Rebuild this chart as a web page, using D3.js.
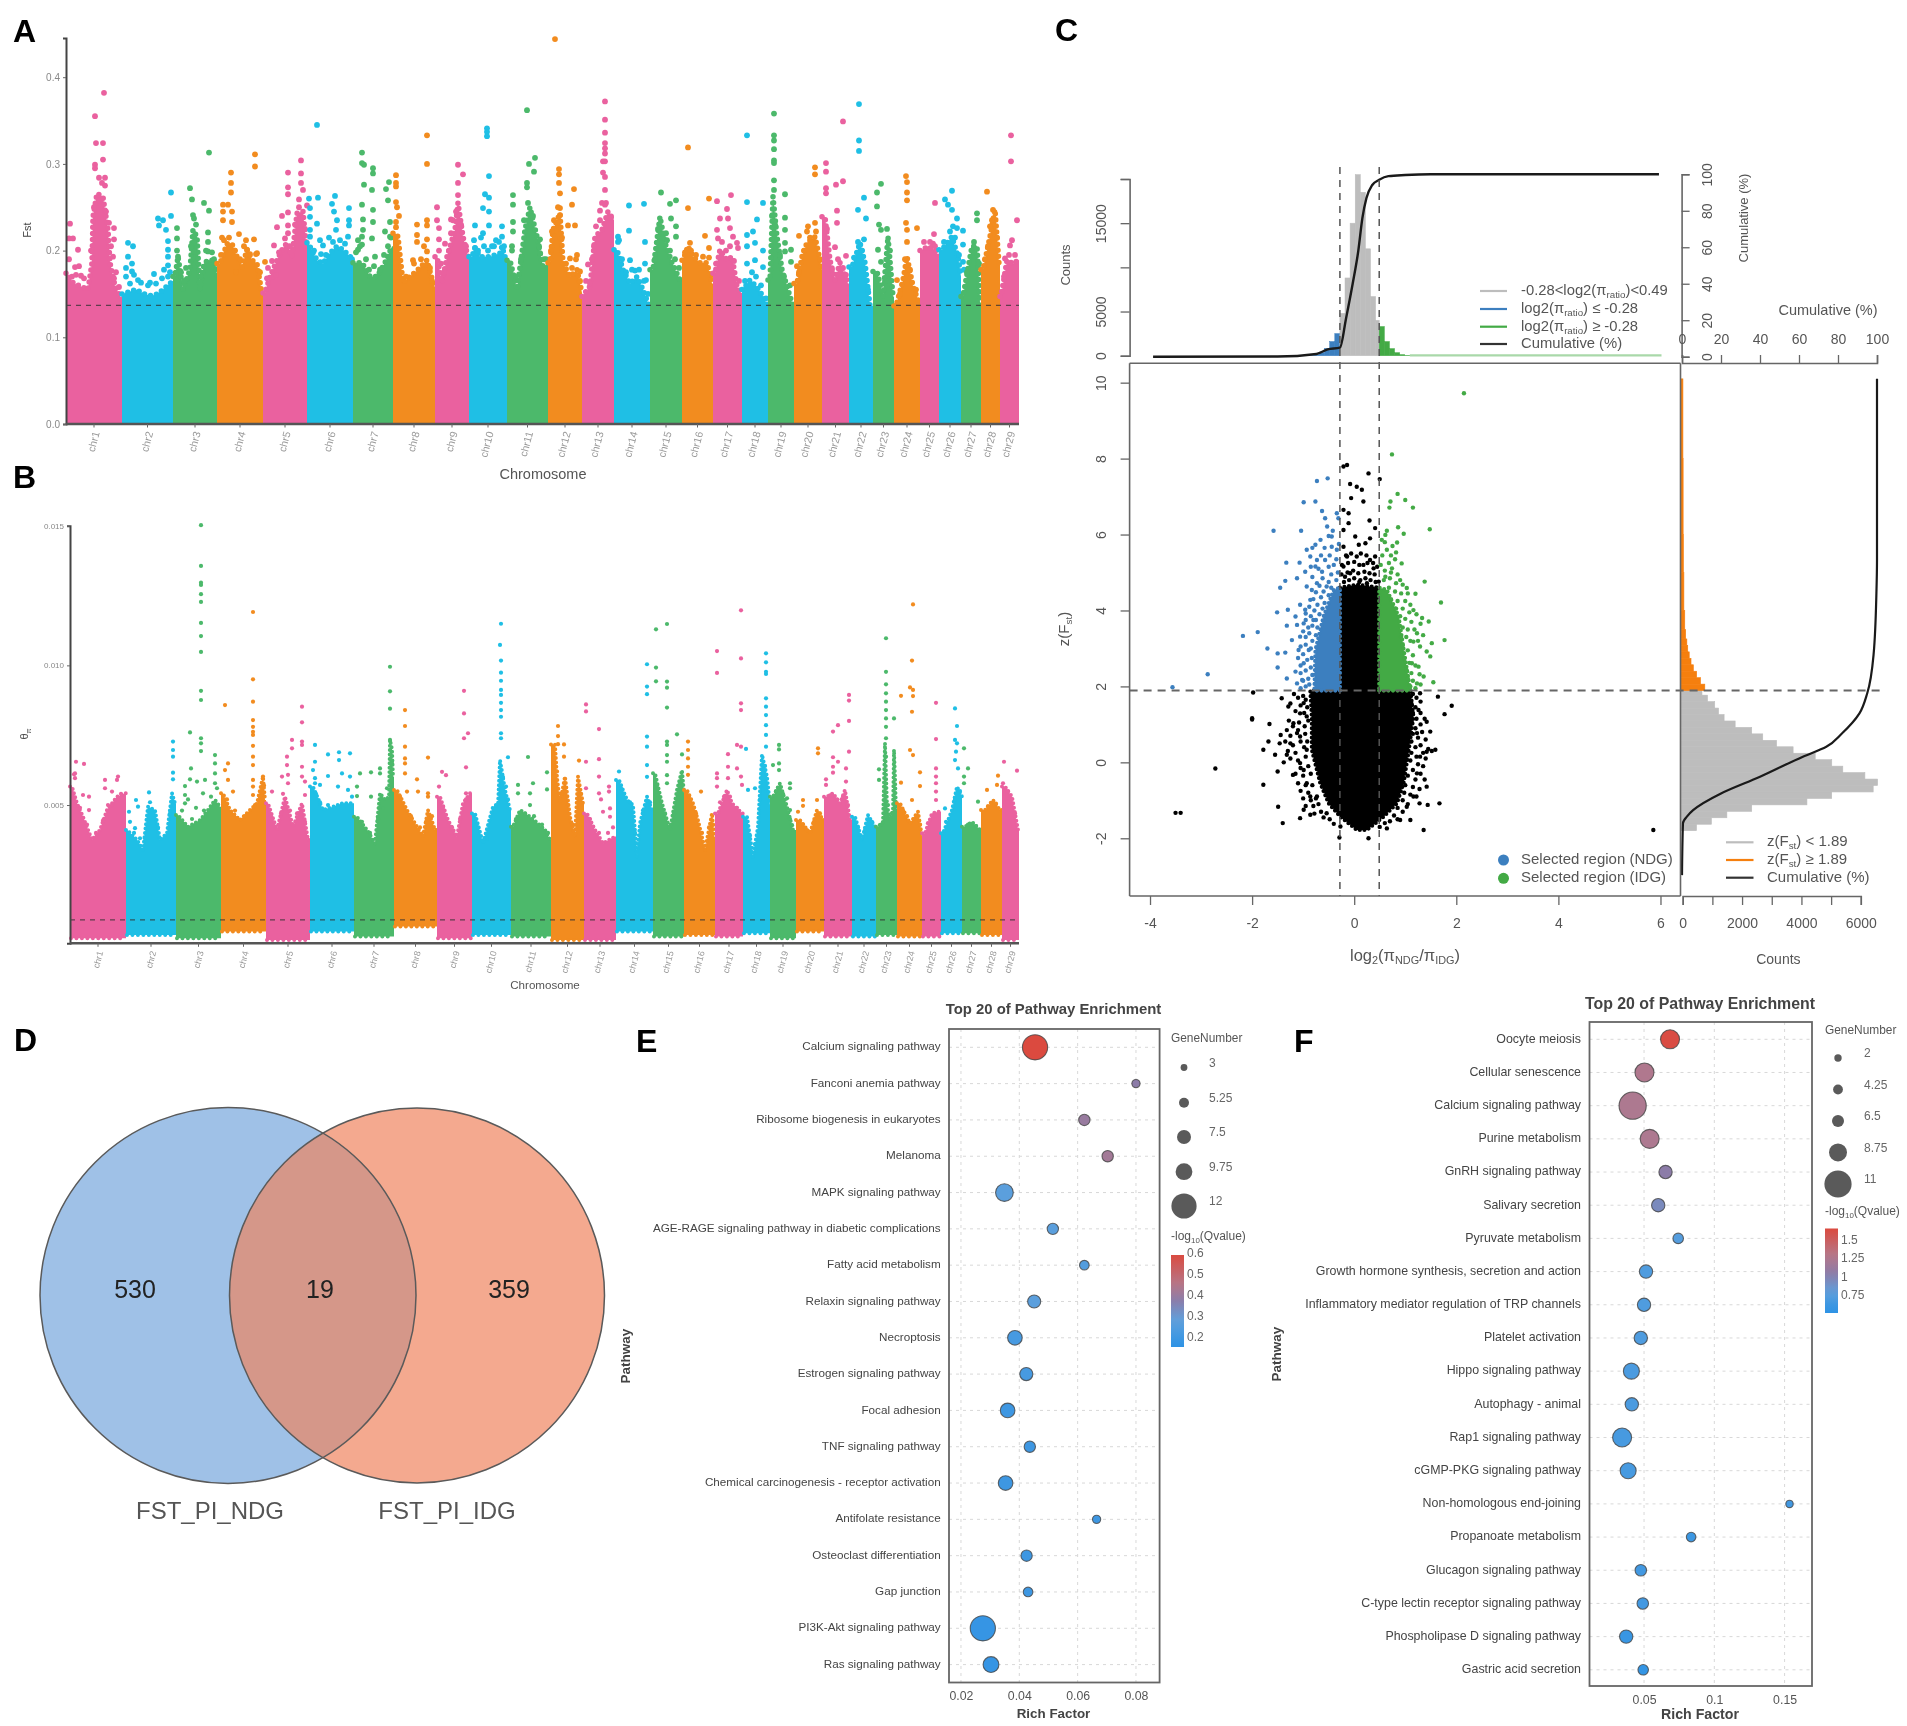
<!DOCTYPE html>
<html><head><meta charset="utf-8">
<script src="https://cdn.jsdelivr.net/npm/d3@7"></script>
<style>
html,body{margin:0;padding:0;background:#fff}
svg{display:block;filter:blur(.5px)}
text{font-family:"Liberation Sans",Arial,sans-serif}
</style></head><body>
<svg id="fig" width="1907" height="1726" viewBox="0 0 1907 1726"></svg>
<script>
// ---------- Manhattan data: positions are along the concatenated genome; values are x1000 (Fst) or x100000 (pi)
const chromosomes = d3.range(1,30).map(i=>"chr"+i);
const fstBounds=[0,56,107,151,197,241,287,327,369,403,441,482,516,548,584,616,647,676,702,728,756,783,807,828,854,873,895,915,934,953];
const fstTops=[
[[1,174],[7,163],[14,159],[22,155],[26,186],[27,239],[31,266],[37,262],[42,224],[44,186],[49,159],[56,143]],
[[56,150],[62,152],[70,155],[78,150],[85,148],[92,150],[100,158],[107,165]],
[[109,170],[112,193],[117,155],[124,178],[127,224],[131,216],[134,155],[138,185],[142,189],[149,189],[151,170]],
[[154,185],[161,208],[166,208],[171,193],[176,181],[181,201],[186,189],[191,185],[196,150]],
[[199,151],[204,170],[211,189],[216,201],[221,209],[226,193],[231,243],[237,245],[240,209]],
[[242,209],[251,189],[257,185],[264,197],[271,205],[277,201],[284,193]],
[[289,186],[296,186],[304,170],[311,170],[319,186],[326,205]],
[[329,220],[332,216],[337,163],[344,170],[352,178],[361,189],[369,155]],
[[371,193],[376,163],[381,193],[389,224],[392,255],[397,216],[402,193]],
[[406,193],[409,203],[414,193],[424,193],[434,197],[436,205],[441,185]],
[[444,189],[451,155],[459,224],[464,250],[471,216],[477,181],[482,181]],
[[484,186],[487,224],[494,243],[497,186],[504,170],[511,178],[516,151]],
[[516,147],[524,159],[529,216],[536,224],[542,245],[548,235]],
[[551,201],[557,178],[564,162],[571,170],[577,155],[583,136]],
[[587,178],[594,239],[599,209],[606,186],[614,166]],
[[617,189],[622,205],[627,193],[634,186],[641,186],[646,162]],
[[649,174],[654,201],[661,189],[666,193],[671,159],[675,151]],
[[677,155],[684,166],[691,158],[697,147],[702,136]],
[[704,166],[707,262],[711,216],[716,178],[722,155],[727,136]],
[[731,162],[736,193],[741,209],[749,216],[756,178]],
[[759,239],[764,189],[769,166],[774,186],[782,162]],
[[786,181],[794,209],[799,186],[804,136]],
[[811,176],[817,147],[822,216],[827,147]],
[[830,136],[837,166],[841,193],[847,159],[852,143]],
[[855,200],[862,205],[870,200],[873,190]],
[[876,201],[886,216],[892,193],[895,170]],
[[897,147],[906,205],[911,205],[914,140]],
[[917,178],[924,216],[929,247],[933,185]],
[[935,147],[941,189],[947,185],[952,189]]];
const fstSpots=[
[[38,382],[29,355],[30,324],[37,324],[37,305],[29,299],[29,295],[33,284],[39,284],[36,278],[39,275],[4,231],[3,214],[7,214],[12,201],[48,226],[48,213],[47,193],[48,168],[53,158],[9,181],[13,182],[6,170],[15,171]],
[[62,209],[67,205],[62,193],[66,185],[66,176],[72,166],[64,162],[84,163],[88,173],[98,178],[102,170],[92,237],[97,235],[93,229],[100,224],[105,267],[105,240],[102,211],[102,201],[102,193],[102,183]],
[[143,313],[124,272],[126,259],[138,255],[143,246],[127,241],[128,237],[111,226],[111,214],[142,221],[142,210],[142,199],[128,209],[128,199],[112,193],[148,190]],
[[189,311],[189,297],[165,290],[165,278],[165,267],[157,253],[162,253],[157,245],[166,245],[157,235],[166,233],[156,215],[173,219],[180,212],[188,213],[191,197],[199,187],[181,201]],
[[235,304],[235,289],[222,290],[222,273],[222,265],[235,278],[237,270],[233,259],[241,252],[222,244],[216,240],[211,227],[222,229],[222,220],[208,206],[207,170],[201,168]],
[[251,345],[243,260],[252,261],[269,263],[266,254],[268,245],[283,249],[283,235],[283,229],[271,235],[270,224],[244,249],[244,239],[244,224],[251,231],[254,212],[282,216],[257,206]],
[[296,313],[296,301],[298,299],[307,295],[307,289],[298,276],[306,270],[323,279],[320,271],[322,258],[296,253],[307,247],[297,236],[307,233],[324,233],[319,222],[297,224],[296,216],[306,214],[324,216],[296,207],[292,201],[309,193]],
[[361,333],[361,300],[330,287],[330,278],[330,274],[330,256],[330,233],[330,227],[361,235],[361,229],[351,230],[351,218],[351,210],[361,213],[361,199],[347,189]],
[[392,299],[397,288],[392,278],[392,264],[371,250],[371,235],[385,236],[385,220],[373,226],[373,213],[379,208]],
[[421,341],[421,337],[421,332],[423,286],[419,265],[423,261],[417,249],[423,245],[423,229],[409,229],[417,220],[436,228],[436,216],[409,203],[426,205]],
[[461,362],[469,307],[463,300],[468,291],[461,278],[461,273],[447,264],[447,253],[447,233],[447,222],[446,205],[474,213],[474,197],[478,190]],
[[489,444],[493,294],[493,288],[493,278],[494,266],[508,271],[506,253],[494,249],[494,241],[502,229],[509,229],[486,222],[489,216],[511,195],[504,191],[514,176]],
[[539,372],[539,351],[539,336],[539,324],[539,318],[539,312],[537,303],[539,303],[537,290],[539,285],[539,270],[536,255],[539,253],[534,246],[522,184],[524,162]],
[[563,252],[578,254],[563,223],[552,216],[553,212],[579,210],[564,189],[579,185],[569,177],[580,166]],
[[595,267],[610,258],[604,254],[605,237],[610,228],[610,216],[601,212]],
[[622,319],[622,249],[643,260],[639,217],[643,203],[624,209]],
[[665,264],[651,257],[661,248],[654,237],[662,237],[664,226],[651,224],[652,214],[667,216],[671,209],[672,203]],
[[681,333],[681,256],[697,255],[691,236],[681,218],[687,222],[689,209],[681,205],[697,200],[689,189],[681,185],[697,181]],
[[708,358],[708,333],[708,327],[708,317],[708,304],[708,301],[708,281],[708,270],[719,265],[719,238],[719,224],[719,209],[719,199],[725,201],[725,187]],
[[749,296],[749,288],[749,232],[742,228],[741,222],[733,217],[731,182]],
[[777,349],[760,301],[760,291],[760,272],[760,266],[770,276],[777,280],[771,246],[771,232],[769,204],[780,194]],
[[793,369],[793,327],[793,315],[798,261],[792,247],[800,237],[798,213]],
[[815,277],[811,267],[811,251],[813,230],[815,224],[812,201],[815,187]],
[[840,286],[841,279],[841,267],[841,258],[840,232],[841,224],[841,210],[851,226],[831,166]],
[[869,255],[868,219],[867,208]],
[[886,269],[879,259],[882,253],[886,247],[891,237],[887,228],[891,226],[897,223],[897,207],[897,187],[898,178]],
[[911,243],[911,235]],
[[921,268],[927,247],[924,228]],
[[945,333],[945,303],[951,235],[946,212],[944,206],[939,191]]];
const fstMore=[
[[28,250],[33,258],[40,245],[45,205],[50,175],[3,190],[10,172],[18,168],[25,200],[43,232]],
[[60,170],[68,172],[75,163],[82,160],[90,162],[96,168],[104,175],[60,180]],
[[111,200],[115,175],[120,180],[125,205],[130,230],[135,170],[140,200],[146,198],[150,185],[118,165]],
[[155,195],[158,212],[163,215],[169,200],[174,190],[178,205],[184,196],[190,196],[194,175],[170,175]],
[[202,180],[206,188],[213,198],[219,214],[224,205],[229,230],[233,250],[239,225],[210,172]],
[[244,216],[248,200],[255,196],[260,195],[267,210],[274,212],[279,208],[286,190],[263,215]],
[[290,198],[294,205],[300,190],[303,178],[308,182],[314,178],[318,195],[322,205],[325,215],[292,212]],
[[333,240],[331,250],[340,170],[348,185],[355,190],[358,205],[364,180],[366,165]],
[[373,200],[378,175],[383,200],[387,235],[390,245],[395,230],[400,205],[375,185]],
[[408,212],[412,200],[418,205],[422,200],[428,205],[433,210],[438,205],[415,215],[430,212]],
[[446,200],[450,170],[455,190],[458,235],[462,255],[467,240],[473,205],[480,190],[445,178]],
[[485,200],[488,235],[492,250],[496,215],[500,185],[506,180],[510,190],[514,165]],
[[520,165],[526,190],[530,228],[534,235],[540,255],[545,238],[528,205]],
[[552,210],[556,190],[560,175],[566,178],[573,178],[578,165],[582,150]],
[[589,190],[592,225],[597,215],[600,220],[604,200],[609,190],[613,180]],
[[619,198],[625,200],[630,195],[637,193],[643,192],[646,172]],
[[650,185],[656,210],[660,200],[664,205],[668,188],[673,165]],
[[679,165],[686,175],[690,170],[695,160],[700,145]],
[[706,240],[709,230],[714,195],[718,170],[724,160]],
[[733,175],[738,200],[744,215],[750,222],[754,190]],
[[761,225],[766,178],[772,190],[777,180],[780,172]],
[[788,192],[792,210],[796,200],[802,155]],
[[813,160],[819,165],[824,200],[821,225]],
[[834,150],[839,190],[844,178],[850,155]],
[[858,210],[864,210],[869,205]],
[[878,210],[884,222],[889,215],[893,195]],
[[901,175],[908,210],[913,185]],
[[919,190],[922,205],[926,235],[931,215]],
[[938,170],[943,195],[949,195]]];
const fstTickValues=[0,0.1,0.2,0.3,0.4];
const fstThreshold=0.1368;

const piBounds=[0,56,106,151,196,240,284,324,367,402,441,481,514,546,583,614,645,673,700,726,754,782,806,827,852,871,892,911,932,949];
const piBottoms=[23,35,23,47,17,47,29,65,23,35,29,17,17,47,29,35,29,41,23,47,29,29,35,29,29,41,41,35,17];
const piTops=[
[[2,566],[7,506],[13,458],[22,375],[30,411],[37,482],[47,530],[55,542]],
[[57,411],[67,375],[73,339],[78,494],[85,482],[90,375],[97,399],[102,542],[105,506]],
[[108,464],[118,422],[130,446],[138,482],[145,518],[150,494]],
[[153,542],[160,482],[170,446],[180,482],[187,506],[193,602],[195,518]],
[[198,506],[207,411],[215,530],[223,422],[232,506],[238,375]],
[[243,566],[253,482],[263,494],[272,506],[280,506]],
[[287,458],[297,411],[305,363],[310,542],[315,518],[319,530],[320,733],[322,700],[323,602]],
[[327,554],[337,482],[347,422],[353,387],[358,482],[365,411]],
[[370,530],[378,446],[387,387],[393,506],[400,542]],
[[405,470],[413,363],[423,494],[428,500],[430,661],[432,620],[435,554],[440,482]],
[[443,422],[450,482],[460,458],[468,434],[475,411],[480,375]],
[[485,717],[487,600],[490,506],[495,602],[500,458],[505,387],[508,602],[513,506]],
[[517,470],[525,411],[533,363],[545,387]],
[[549,590],[557,518],[563,500],[567,315],[570,435],[577,530],[582,482]],
[[585,614],[592,506],[600,411],[607,554],[612,625],[614,542]],
[[617,554],[623,506],[628,446],[635,339],[642,470],[644,387]],
[[648,470],[657,554],[662,506],[672,470]],
[[677,458],[683,315],[688,422],[692,681],[697,602],[700,500]],
[[703,530],[710,578],[717,494],[723,411]],
[[730,446],[740,399],[747,482],[753,446]],
[[757,530],[763,542],[770,506],[775,554],[780,446]],
[[785,458],[792,375],[798,464],[805,422]],
[[808,422],[813,440],[815,721],[817,500],[820,447],[823,480],[824,697],[825,600],[826,482]],
[[830,506],[840,434],[848,476],[852,387]],
[[855,399],[862,470],[868,476]],
[[873,399],[882,482],[887,566],[892,530]],
[[895,422],[902,440],[910,411]],
[[915,482],[923,518],[930,482]],
[[935,566],[942,530],[948,411]]];
const piSpots=[
[[6,655],[14,647],[5,613],[5,596],[13,536],[19,530],[35,590],[35,560],[48,602],[47,590],[42,548],[38,500],[19,482]],
[[103,727],[103,697],[103,673],[103,616],[103,592],[79,545],[66,518],[59,476],[68,494],[65,417],[70,381]],
[[131,1502],[131,1356],[131,1296],[131,1288],[131,1255],[131,1227],[131,1152],[131,1105],[131,1048],[131,909],[131,876],[120,760],[131,739],[131,721],[131,693],[121,631],[145,679],[145,649],[145,613],[145,578],[135,590],[120,592],[127,584],[115,568],[115,536],[115,506],[133,542]],
[[183,1191],[183,950],[155,858],[183,870],[183,804],[183,780],[183,762],[183,751],[183,712],[183,673],[183,643],[183,590],[183,566],[183,536],[158,649],[155,625],[158,590],[163,548],[193,602]],
[[232,852],[232,796],[222,733],[232,727],[232,715],[222,703],[217,673],[217,643],[232,637],[212,602],[218,608],[232,602],[235,584],[218,578],[202,548],[235,536]],
[[245,715],[245,655],[243,625],[245,596],[245,578],[258,681],[269,689],[280,685],[269,661],[272,613],[258,604],[280,602],[268,566],[278,554],[250,572]],
[[320,995],[320,907],[320,845],[320,733],[310,631],[310,613],[301,617],[290,613],[287,566],[287,532],[301,530]],
[[335,840],[335,783],[335,709],[335,667],[335,649],[335,613],[358,670],[347,592],[337,548],[348,548],[358,542],[358,530]],
[[394,909],[394,828],[398,757],[394,739],[396,635],[372,619],[376,607],[369,566],[396,542]],
[[431,1149],[430,1073],[431,1017],[431,974],[431,945],[431,912],[431,894],[431,866],[431,840],[431,816],[431,757],[431,739],[438,671],[436,566]],
[[458,672],[448,572],[463,578],[448,542],[460,542],[460,500],[477,617],[477,556]],
[[488,783],[488,747],[488,718],[494,717],[494,673],[509,659]],
[[516,860],[516,835],[529,772],[529,664],[516,655],[529,602],[516,560],[529,542],[531,520],[539,566],[539,548],[533,476],[540,488],[540,458]],
[[549,620],[577,1004],[577,924],[577,897],[577,745],[577,709],[577,643],[577,601]],
[[586,1129],[597,1148],[586,992],[586,943],[597,942],[597,920],[597,849],[607,753],[597,727],[597,715],[597,679],[597,655],[597,607],[597,578],[612,681]],
[[618,727],[618,697],[618,667],[618,637],[618,608],[631,548]],
[[647,1051],[647,973],[671,1197],[671,1025],[671,864],[671,840],[667,715],[671,709],[658,682],[658,637],[667,631],[647,613],[647,596],[658,596],[671,602],[647,566],[672,572]],
[[696,1043],[696,1011],[696,977],[696,969],[696,882],[696,852],[696,822],[696,786],[696,751],[696,709],[676,701],[678,554],[685,560]],
[[709,715],[709,699],[703,643],[709,649],[709,625],[720,578],[720,560],[717,524],[720,482],[722,428]],
[[748,703],[748,685],[728,476],[733,518],[733,497],[747,518]],
[[779,894],[779,874],[768,786],[763,763],[779,801],[779,691],[763,671],[768,655],[763,637],[763,616],[776,631],[756,592],[756,572],[776,584]],
[],
[[816,1097],[816,977],[816,932],[816,900],[816,870],[816,840],[816,810],[816,780],[824,810],[816,739],[816,673],[809,628],[809,590]],
[[843,1218],[842,1017],[840,921],[843,912],[843,890],[831,891],[842,834],[840,697],[843,679],[850,617],[831,580],[850,568],[842,518]],
[[866,866],[866,736],[866,631],[866,602],[866,578],[866,548],[866,518]],
[[885,846],[887,783],[885,733],[887,721],[886,691],[885,661],[888,631],[875,488]],
[[894,703],[894,602],[898,631],[894,578],[908,512]],
[[928,605],[917,554],[927,572]],
[[934,655],[947,623],[933,578]]];
const piMore=[
[[4,610],[10,490],[17,430],[26,400],[33,445],[42,500],[51,540]],
[[60,440],[64,400],[75,380],[80,510],[88,420],[100,470]],
[[112,480],[122,450],[126,490],[134,480],[141,530],[147,560],[118,520]],
[[157,520],[165,480],[175,460],[185,500],[190,530],[194,570]],
[[201,460],[211,470],[220,480],[227,470],[235,440],[213,540]],
[[246,540],[250,510],[258,500],[268,490],[276,500],[282,530]],
[[292,440],[300,400],[308,450],[313,490],[317,560],[322,650]],
[[330,530],[341,460],[350,420],[356,440],[362,460]],
[[373,490],[382,420],[390,450],[396,520]],
[[408,420],[417,380],[426,500],[433,600],[438,520]],
[[446,450],[455,470],[464,460],[472,430],[478,400]],
[[487,620],[492,540],[498,500],[503,430],[511,540]],
[[520,450],[529,400],[538,400],[543,420]],
[[551,560],[560,510],[565,400],[573,480],[580,510]],
[[587,570],[595,470],[604,470],[610,580]],
[[619,530],[626,470],[632,400],[639,420],[643,430]],
[[650,510],[654,530],[660,530],[667,490]],
[[680,390],[685,360],[690,520],[695,640]],
[[706,550],[713,540],[720,450]],
[[733,430],[737,410],[744,440],[750,470]],
[[760,535],[767,520],[773,530],[778,500]],
[[788,420],[795,410],[802,440]],
[[811,430],[818,500],[822,470]],
[[833,480],[837,460],[844,450],[850,430]],
[[858,435],[865,460]],
[[876,440],[885,520],[890,550]],
[[898,430],[906,425]],
[[918,495],[926,505]],
[[938,550],[945,470]]];
const piTickValues=[0.005,0.010,0.015];
const piThreshold=0.00089;

// ---------- Panel C data
const leftTail=[[-.88,50],[-.78,110],[-.68,340],[-.58,830],[-.48,1600],[-.38,2500]];
const midBins=[[-.28,4800],[-.18,8800],[-.08,15000],[.02,20500],[.12,18500],[.22,12100],[.32,6700],[.42,4000]];
const rightTail=[[.49,3300],[.59,1600],[.69,800],[.79,340],[.89,120],[.99,50]];
const logCum=[[-3.94,0],[-1.5,.1],[-.74,1.5],[-.52,4],[-.28,5],[-.16,21],[-.03,40],[.08,58],[.16,76],[.24,87],[.35,94],[.49,97],[.67,99],[1,99.6],[1.5,100],[5.97,100]];
const greenTailLine=[[1.09,40],[6.02,40]];
const blackBody=[[-.28,4.6],[.05,4.68],[.49,4.6],[.49,1.89],[1.1,1.89],[1.16,1.2],[1.07,.33],[.967,-.55],[.837,-1.08],[.576,-1.43],[.249,-1.78],[.053,-1.78],[-.273,-1.43],[-.5,-1.08],[-.665,-.55],[-.83,.33],[-.83,1.2],[-.86,1.89],[-.28,1.89]];
const blueBody=[[-.28,1.89],[-.78,1.89],[-.76,2.96],[-.6,3.84],[-.4,4.54],[-.28,4.6]];
const greenBody=[[.49,1.89],[1.1,1.89],[.97,2.96],[.87,3.84],[.64,4.54],[.49,4.6]];
const blueSpots=[[-.73,7.41],[-.52,7.48],[-.99,6.85],[-.76,6.87],[-1.58,6.1],[-1.04,6.1],[-.63,6.62],[-.57,6.43],[-.53,6.21],[-.34,6.56],[-.31,6.43],[-.5,5.96],[-.66,5.86],[-.76,5.73],[-.44,5.68],[-.93,5.6],[-.86,5.42],[-1.33,5.26],[-1.07,5.26],[-.76,5.16],[-.63,5.02],[-.96,5.02],[-1.12,4.85],[-1.45,4.6],[-1.35,4.78],[-.93,4.63],[-.73,4.72],[-.54,4.63],[-1.06,4.15],[-.86,4.28],[-1.51,3.95],[-1.3,4.02],[-1.15,3.84],[-.96,4.02],[-1.32,3.6],[-1.12,3.62],[-2.18,3.33],[-1.89,3.43],[-1.22,3.22],[-1.06,3.31],[-1.7,3],[-1.5,2.87],[-1.35,2.89],[-1.09,2.96],[-1.5,2.5],[-1.15,2.39],[-1.32,2.21],[-.99,2.61],[-2.87,2.32],[-1.02,2.17],[-1.12,2.08],[-.89,2.96],[-.8,3.75],[-.99,3.66],[-.83,4.54],[-.4,5.2],[-.57,5.33],[-.73,5.33],[-.34,5.6],[-.44,5.95],[-3.56,1.98],
[-1.05,1.95],[-.95,2],[-.88,2.05],[-1,2.15],[-.9,2.2],[-.82,2.3],[-1.05,2.35],[-.95,2.42],[-.85,2.5],[-1.05,2.55],[-.92,2.7],[-.83,2.75],[-1.1,2.75],[-1,2.85],[-.85,3],[-1.05,3.05],[-.95,3.1],[-.82,3.2],[-.95,3.3],[-.88,3.4],[-.75,3.35],[-1,3.45],[-.9,3.55],[-.72,3.55],[-.82,3.6],[-.95,3.75],[-.75,3.75],[-.85,3.85],[-.68,3.9],[-.95,3.92],[-.78,4],[-.62,4.05],[-.88,4.1],[-.72,4.15],[-.58,4.2],[-.8,4.3],[-.65,4.35],[-.5,4.4],[-.75,4.48],[-.6,4.5],[-.45,4.6],[-.68,4.65],[-.5,4.75],[-.35,4.8],[-.62,4.85],[-.45,4.95],[-.82,4.88],[-.32,5],[-.7,5.1],[-.5,5.15],[-.35,5.35],[-.65,5.45],[-.48,5.45],[-.82,5.65],[-.58,5.65],[-.3,5.75],[-.85,5.15],[-.42,6.1]];
const greenSpots=[[.74,8.11],[.85,7.07],[1,6.91],[.71,6.87],[.69,6.71],[1.15,6.71],[1.48,6.14],[.86,6.19],[.64,6.1],[.61,5.99],[.97,6.02],[.54,5.86],[.84,5.79],[.64,5.6],[.82,5.53],[.93,5.24],[.74,5.11],[.61,4.89],[.9,4.8],[1.38,4.76],[1.03,4.59],[1.2,4.44],[1.7,4.21],[1.16,4.01],[1.33,3.8],[1.46,3.71],[1.23,3.4],[1.77,3.22],[1.52,3.14],[1.16,3.18],[1.42,2.92],[1.29,3.05],[1.13,2.61],[1.26,2.52],[1.55,2.11],[1.36,2.26],[1.23,2.08],[1.49,2.79],[2.15,9.72],
[1.2,1.95],[1.1,2],[1.3,2.05],[1.15,2.15],[1.05,2.2],[1.28,2.32],[1.12,2.35],[1.02,2.45],[1.2,2.55],[1.08,2.62],[.98,2.72],[1.15,2.82],[1.05,2.95],[.95,3.08],[1.25,3.2],[1.1,3.2],[1.02,3.3],[.92,3.3],[1.35,3.35],[1.18,3.5],[1.05,3.5],[.95,3.55],[1.3,3.65],[1.12,3.7],[1,3.78],[.9,3.85],[1.22,3.9],[1.08,3.95],[.95,4.05],[.82,4.05],[1.1,4.15],[1,4.25],[.85,4.25],[.72,4.3],[1.05,4.45],[.92,4.45],[.8,4.5],[.68,4.6],[.95,4.68],[.82,4.72],[.7,4.85],[.58,4.8],[.85,4.95],[.72,5],[.6,5.05],[.52,5.2],[.68,5.25],[.8,5.35],[.55,5.45],[.72,5.45],[.75,5.7],[.6,5.8]];
const blackSpots=[[-.14,7.83],[-.21,7.79],[.28,7.61],[.5,7.46],[-.08,7.33],[.05,7.26],[.15,7.18],[-.06,6.96],[.18,6.87],[-.21,6.65],[-.11,6.56],[.3,6.37],[-.11,6.3],[.41,6.17],[-.21,6.12],[.02,5.95],[.09,5.73],[.31,5.9],[.22,5.77],[-.21,5.68],[-.14,5.42],[.05,5.42],[.31,5.33],[.41,5.42],[-.21,5.16],[.18,5.2],[-.08,4.98],[.38,5.11],[.12,4.8],[-.18,4.89],[.48,4.76],[.25,4.72],
[-.2,4.75],[-.1,4.8],[0,4.85],[.1,4.75],[.22,4.85],[.32,4.8],[.42,4.75],[-.25,4.95],[-.13,5],[-.02,5.05],[.08,4.98],[.2,5.02],[.3,4.98],[.4,4.95],[-.24,5.2],[-.12,5.25],[0,5.28],[.1,5.2],[.26,5.25],[.37,5.25],[.45,5.15],[-.16,5.45],[-.06,5.5],[.13,5.5],[.24,5.45],
[-1.98,1.84],[-2,1.16],[-1.66,1.01],[-1.44,.72],[-1.68,.55],[-1.78,.33],[-1.46,.5],[-1.25,.5],[-1.55,.2],[-1.32,.2],[-1.06,-.02],[-2.72,-.16],[-1.5,-.24],[-1.78,-.59],[-1.2,-.33],[-.93,-.55],[-1.49,-1.17],[-1.4,-1.6],[-1.06,-1.47],[-.86,-1.38],[-.73,-.9],[-.99,-1.25],[-1.29,1.47],[-1.19,1.03],[-1.12,.77],[-.99,1.56],[-.93,1.21],[-1.06,1.29],[-1.42,1.69],[-.29,-1.98],[.28,-2],[1.36,-1.78],[1.1,-1.52],[1.67,-1.08],[1.44,-1.12],[1.28,-1.08],[1.42,-.64],[1.23,-.29],[1.59,.33],[1.42,.28],[1.49,.81],[1.42,1.07],[1.26,1.38],[1.64,1.73],[1.91,1.49],[1.77,1.27],[1.29,1.82],[1.23,.77],[1.29,.15],[1.16,-.9],[1.03,-1.17],[.9,-1.52],[.64,-1.74],[-.27,-1.69],[-.54,-1.34],[-.86,-.9],[-.99,-.2],[-.93,.33],[-1.06,.68],[-3.5,-1.33],[-3.4,-1.33],[5.86,-1.78],[-2,1.13],
[-1.18,1.8],[-1.1,1.7],[-1,1.75],[-.95,1.65],[-1.25,1.55],[-1.05,1.5],[-.92,1.45],[-1.15,1.35],[-.98,1.3],[-.9,1.1],[-1.28,1.1],[-1.2,.95],[-1.08,1.05],[-.97,.95],[-1.32,.85],[-1.25,.7],[-1.1,.85],[-.96,.75],[-1.35,.55],[-1.2,.45],[-1.05,.55],[-.92,.55],[-1.3,.3],[-1.15,.25],[-.98,.4],[-1.25,.1],[-1.1,.05],[-.95,.15],[-1.38,0],[-1.05,-.15],[-.9,-.1],[-1.15,-.3],[-1,-.35],[-.85,-.3],[-1.1,-.55],[-.95,-.6],[-.82,-.6],[-1.05,-.75],[-.9,-.8],[-1,-.95],[-.85,-1],[-.75,-.95],[-.95,-1.15],[-.8,-1.15],[-.7,-1.1],[-.78,-1.35],[-.65,-1.3],[-.6,-1.45],[-.48,-1.5],[-.4,-1.62],
[1.15,1.8],[1.22,1.7],[1.3,1.6],[1.12,1.55],[1.2,1.45],[1.3,1.3],[1.15,1.3],[1.22,1.15],[1.38,1.15],[1.13,1.05],[1.3,1],[1.2,.9],[1.33,.8],[1.15,.75],[1.25,.65],[1.4,.6],[1.12,.55],[1.3,.45],[1.2,.4],[1.45,.35],[1.35,.25],[1.12,.25],[1.22,.15],[1.52,.3],[1.4,.1],[1.1,.05],[1.25,-.05],[1.35,-.1],[1.15,-.2],[1.3,-.3],[1.05,-.35],[1.2,-.45],[1.38,-.45],[1,-.6],[1.15,-.65],[1.28,-.7],[.98,-.8],[1.1,-.85],[1.22,-.9],[.95,-1],[1.05,-1.1],[.85,-1.2],[.95,-1.3],[.78,-1.4],[.85,-1.5],[.7,-1.55],[.6,-1.6],[.5,-1.7]];
const zGrey=[[-1.8,465],[-1.63,967],[-1.46,1488],[-1.29,2325],[-1.12,4185],[-.95,5020],[-.78,6417],[-.61,6566],[-.44,6138],[-.27,5394],[-.1,5022],[.07,4464],[.24,3720],[.41,3162],[.58,2697],[.75,2325],[.92,1767],[1.09,1395],[1.26,1209],[1.43,1079],[1.6,837],[1.77,650]];
const zOrange=[[1.89,745],[2.06,600],[2.23,470],[2.4,360],[2.57,280],[2.74,220],[2.91,170],[3.08,140],[3.25,100],[3.5,70],[4,40],[5,25],[6,15],[8,8]];
const zEdgeEnd=10.1;
const zCum=[[-2.97,0],[-1.6,.5],[-1.43,2.5],[-1.26,5.7],[-.82,20],[-.38,40],[.15,62],[.41,74],[.76,82],[1.29,91],[1.82,95],[2.87,98.3],[4.46,99.7],[5.33,100],[10.1,100]];

// ---------- Panel D data
const vennCounts=[530,19,359];
const vennNames=["FST_PI_NDG","FST_PI_IDG"];

// ---------- Panel E data
const ePathways=["Calcium signaling pathway","Fanconi anemia pathway","Ribosome biogenesis in eukaryotes","Melanoma","MAPK signaling pathway","AGE-RAGE signaling pathway in diabetic complications","Fatty acid metabolism","Relaxin signaling pathway","Necroptosis","Estrogen signaling pathway","Focal adhesion","TNF signaling pathway","Chemical carcinogenesis - receptor activation","Antifolate resistance","Osteoclast differentiation","Gap junction","PI3K-Akt signaling pathway","Ras signaling pathway"];
const eRich=[.0454,.08,.0623,.0703,.0349,.0515,.0623,.0451,.0385,.0424,.036,.0436,.0353,.0665,.0425,.043,.0275,.0303];
const eGenes=[12,4,6,6,10,6,5,7,8,7,8,6,8,4,6,5,12,9];
const eQ=[.6,.38,.4,.42,.27,.27,.25,.27,.22,.22,.2,.2,.2,.2,.2,.2,.18,.18];
const eSizeLegend=[3,5.25,7.5,9.75,12];
const eRadii=[3.4,5,7,8.4,12.6];
const eColorTicks=[.6,.5,.4,.3,.2];
// ---------- Panel F data
const fPathways=["Oocyte meiosis","Cellular senescence","Calcium signaling pathway","Purine metabolism","GnRH signaling pathway","Salivary secretion","Pyruvate metabolism","Growth hormone synthesis, secretion and action","Inflammatory mediator regulation of TRP channels","Platelet activation","Hippo signaling pathway","Autophagy - animal","Rap1 signaling pathway","cGMP-PKG signaling pathway","Non-homologous end-joining","Propanoate metabolism","Glucagon signaling pathway","C-type lectin receptor signaling pathway","Phospholipase D signaling pathway","Gastric acid secretion"];
const fRich=[.0685,.0503,.0419,.054,.0653,.0601,.0743,.0514,.05,.0477,.041,.0413,.0344,.0387,.1535,.0835,.0477,.0491,.0373,.0494];
const fGenes=[9,9,11,9,7,7,5,7,7,7,8,7,9,8,2,4,6,6,7,5];
const fQ=[1.65,1.27,1.25,1.25,1.05,.95,.75,.72,.72,.72,.7,.7,.68,.68,.65,.62,.65,.65,.6,.58];
const fSizeLegend=[2,4.25,6.5,8.75,11];
const fRadii=[3.7,4.9,6,9,13.6];
const fColorTicks=[1.5,1.25,1,.75];

// ---------- helpers
const svg=d3.select("#fig");
const chromColors=["#EA619F","#1FBFE5","#4CB96B","#F28C1F"];
const T=(g,x,y,s,o={})=>g.append("text").attr("x",x).attr("y",y).text(s)
  .attr("font-size",o.size||12).attr("fill",o.fill||"#555").attr("font-weight",o.weight||null)
  .attr("text-anchor",o.anchor||"start").attr("dominant-baseline",o.base||"middle")
  .attr("transform",o.rot!=null?`rotate(${o.rot} ${x} ${y})`:null).attr("font-style",o.italic?"italic":null);
function rich(g,x,y,parts,o={}){
  const t=g.append("text").attr("x",x).attr("y",y).attr("font-size",o.size||13.5).attr("fill",o.fill||"#555")
    .attr("text-anchor",o.anchor||"start").attr("dominant-baseline","middle")
    .attr("transform",o.rot!=null?`rotate(${o.rot} ${x} ${y})`:null);
  parts.forEach((p,i)=>{
    const s=t.append("tspan").text(p[0]);
    if(p[1]){s.attr("font-size",(o.size||13.5)*.66).attr("dy",4);}
    else if(i>0&&parts[i-1][1]){s.attr("dy",-4);}
  });
  return t;
}
[["A",13,42],["B",13,488],["C",1055,41],["D",14,1051],["E",636,1052],["F",1294,1052]].forEach(d=>
  svg.append("text").attr("x",d[1]).attr("y",d[2]).text(d[0]).attr("font-size",32).attr("font-weight","bold").attr("fill","#000"));

// ---------- Manhattan
function manhattan(cfg){
  const g=svg.append("g");
  const x=d3.scaleLinear().domain([0,cfg.bounds[cfg.bounds.length-1]]).range(cfg.xr);
  const y=d3.scaleLinear().domain(cfg.yd).range(cfg.yr);
  const Y=v=>y(v*cfg.unit);
  chromosomes.forEach((name,i)=>{
    const c=chromColors[i%4], a=cfg.bounds[i], b=cfg.bounds[i+1], top=cfg.tops[i];
    const pts=[[a,top[0][1]],...top,[b,top[top.length-1][1]]];
    const base=cfg.bottoms?cfg.bottoms[i]*cfg.unit:cfg.yd[0];
    g.append("path").attr("d",d3.area().x(d=>x(d[0])).y0(y(base)).y1(d=>Y(d[1]))(pts)).attr("fill",c);
    g.append("path").attr("d",d3.line().x(d=>x(d[0])).y(d=>Y(d[1]))(pts)).attr("fill","none").attr("stroke",c)
      .attr("stroke-width",cfg.r*1.9).attr("stroke-linecap","round").attr("stroke-dasharray",`0 ${cfg.r*2.1}`);
    if(cfg.bottoms) g.append("path").attr("d",d3.line().x(d=>x(d[0])).y(()=>y(base))([[a+1],[b-1]])).attr("fill","none").attr("stroke",c)
      .attr("stroke-width",cfg.r*1.9).attr("stroke-linecap","round").attr("stroke-dasharray",`0 ${cfg.r*2.6}`);
    g.selectAll(null).data(cfg.spots[i].concat(cfg.more[i])).join("circle").attr("cx",d=>x(d[0])).attr("cy",d=>Y(d[1])).attr("r",cfg.r).attr("fill",c);
  });
  g.append("line").attr("x1",cfg.xr[0]).attr("x2",cfg.xr[1]).attr("y1",y(cfg.th)).attr("y2",y(cfg.th))
    .attr("stroke","#333").attr("stroke-opacity",.75).attr("stroke-width",1.4).attr("stroke-dasharray","5 5");
  const ax=g.append("g").attr("transform",`translate(${cfg.xr[0]},0)`).call(d3.axisLeft(y).tickValues(cfg.ticks).tickFormat(cfg.fmt).tickSize(3));
  ax.select(".domain").attr("stroke","#444").attr("stroke-width",2);
  ax.selectAll("line").attr("stroke","#666");
  ax.selectAll("text").attr("fill","#888").attr("font-size",cfg.tickSize).attr("font-family",'"Liberation Sans"');
  g.append("line").attr("x1",cfg.xr[0]).attr("x2",cfg.xr[1]).attr("y1",cfg.yr[0]).attr("y2",cfg.yr[0]).attr("stroke","#555").attr("stroke-width",2.4);
  const mids=chromosomes.map((n,i)=>(cfg.bounds[i]+cfg.bounds[i+1])/2);
  chromosomes.forEach((n,i)=>{
    const px=x(mids[i]);
    g.append("line").attr("x1",px).attr("x2",px).attr("y1",cfg.yr[0]).attr("y2",cfg.yr[0]+3.5).attr("stroke","#666");
    T(g,px+3,cfg.yr[0]+8,n,{size:cfg.chrSize,fill:"#999",anchor:"end",rot:-75});
  });
  return g;
}
const gA=manhattan({bounds:fstBounds,tops:fstTops,spots:fstSpots,more:fstMore,unit:.001,xr:[66,1019],yd:[0,.4452],yr:[424,38],th:fstThreshold,ticks:fstTickValues,fmt:d3.format(".1f"),r:2.9,tickSize:10,chrSize:10.5});
T(gA,28,230,"Fst",{size:11,fill:"#444",anchor:"middle",rot:-90});
T(gA,543,475,"Chromosome",{size:14.5,fill:"#555",anchor:"middle"});
const gB=manhattan({bounds:piBounds,tops:piTops,spots:piSpots,more:piMore,bottoms:piBottoms,unit:.00001,xr:[70,1019],yd:[.00005,.015],yr:[943.3,525.7],th:piThreshold,ticks:piTickValues,fmt:d3.format(".3f"),r:2.1,tickSize:8,chrSize:9});
rich(gB,25,734,[["θ"],["π",1]],{size:11,fill:"#444",rot:-90,anchor:"middle"});
T(gB,545,986,"Chromosome",{size:11.6,fill:"#555",anchor:"middle"});

// ---------- Panel C
(function(){
  const g=svg.append("g");
  const grey="#BDBDBD",blue="#3C7FBF",green="#43AA45",orange="#F57F0E",axisC="#666",txt="#555";
  const x=d3.scaleLinear().domain([-4.4,6.4]).range([1129.6,1680.9]);
  const y=d3.scaleLinear().domain([-3.52,10.51]).range([896,363.3]);
  const cnt=d3.scaleLinear().domain([0,20000]).range([355.7,179]);
  const cum=d3.scaleLinear().domain([0,100]).range([356.7,174.3]);
  const hx=d3.scaleLinear().domain([0,6000]).range([1682.7,1860.8]);
  const hc=d3.scaleLinear().domain([0,100]).range([1682,1877]);
  const bars=(data,next,fill)=>g.selectAll(null).data(data).join("rect")
    .attr("x",d=>x(d[0])).attr("width",(d,i)=>x(next(i))-x(d[0])).attr("y",d=>cnt(d[1])).attr("height",d=>cnt(0)-cnt(d[1])).attr("fill",fill).attr("stroke",fill).attr("stroke-width",.5);
  bars(leftTail,i=>i+1<leftTail.length?leftTail[i+1][0]:-.28,blue);
  bars(midBins,i=>i+1<midBins.length?midBins[i+1][0]:.49,grey);
  bars(rightTail,i=>i+1<rightTail.length?rightTail[i+1][0]:1.09,green);
  g.append("path").attr("d",d3.line().x(d=>x(d[0])).y(d=>cnt(d[1]))(greenTailLine)).attr("stroke","#A9D8A9").attr("stroke-width",2.4);
  g.append("path").attr("d",d3.line().x(d=>x(d[0])).y(d=>cum(d[1])).curve(d3.curveMonotoneX)(logCum)).attr("fill","none").attr("stroke","#1a1a1a").attr("stroke-width",2.4);

  // scatter
  const line=d3.line().x(d=>x(d[0])).y(d=>y(d[1])).curve(d3.curveLinearClosed);
  const blob=(data,c)=>{g.append("path").attr("d",line(data)).attr("fill",c)
     .attr("stroke",c).attr("stroke-width",4.2).attr("stroke-linecap","round").attr("stroke-dasharray","0 4.6");};
  blob(blackBody,"#000");blob(blueBody,blue);blob(greenBody,green);
  const dots=(data,c)=>g.selectAll(null).data(data).join("circle").attr("cx",d=>x(d[0])).attr("cy",d=>y(d[1])).attr("r",2.2).attr("fill",c);
  dots(blackSpots,"#000");dots(blueSpots,blue);dots(greenSpots,green);

  // right histogram
  const hb=(data,end,fill)=>g.selectAll(null).data(data).join("rect")
    .attr("x",hx(0)-2).attr("width",d=>hx(d[1])-hx(0)+2)
    .attr("y",(d,i)=>y(i+1<data.length?data[i+1][0]:end)).attr("height",(d,i)=>y(d[0])-y(i+1<data.length?data[i+1][0]:end)).attr("fill",fill).attr("stroke",fill).attr("stroke-width",.6);
  hb(zGrey,1.89,grey);hb(zOrange,zEdgeEnd,orange);
  g.append("path").attr("d",d3.line().x(d=>hc(d[1])).y(d=>y(d[0])).curve(d3.curveMonotoneY)(zCum)).attr("fill","none").attr("stroke","#1a1a1a").attr("stroke-width",2.2);

  // thresholds
  [-.28,.49].forEach(v=>g.append("line").attr("x1",x(v)).attr("x2",x(v)).attr("y1",167).attr("y2",896).attr("stroke","#555").attr("stroke-width",1.5).attr("stroke-dasharray","7 6"));
  g.append("line").attr("x1",1129.6).attr("x2",1880).attr("y1",y(1.89)).attr("y2",y(1.89)).attr("stroke","#666").attr("stroke-width",2).attr("stroke-dasharray","8 6");

  // frame and axes
  const styled=a=>{a.select(".domain").attr("stroke",axisC).attr("stroke-width",1.6);a.selectAll(".tick line").attr("stroke",axisC).attr("stroke-width",1.3);a.selectAll("text").attr("fill",txt).attr("font-size",14).attr("font-family",'"Liberation Sans"');};
  [[1129.6,363.3,1680.5,363.3],[1129.6,363.3,1129.6,896],[1129.6,896,1680.5,896],[1680.5,363.3,1680.5,896]].forEach(l=>
    g.append("line").attr("x1",l[0]).attr("y1",l[1]).attr("x2",l[2]).attr("y2",l[3]).attr("stroke",axisC).attr("stroke-width",1.6));
  const bx=g.append("g").attr("transform","translate(0,896)").call(d3.axisBottom(x).tickValues([-4,-2,0,2,4,6]).tickFormat(d=>d3.format("d")(d).replace("−","-")).tickSize(9).tickPadding(13));styled(bx);bx.select(".domain").remove();
  const ly=g.append("g").attr("transform","translate(1129.6,0)").call(d3.axisLeft(y).tickValues([-2,0,2,4,6,8,10]).tickFormat(d=>d3.format("d")(d).replace("−","-")).tickSize(9));styled(ly);ly.select(".domain").remove();
  ly.selectAll("text").attr("transform","rotate(-90)").attr("x",0).attr("y",-27).attr("dy",0).attr("text-anchor","middle").attr("dominant-baseline","middle");
  const lc=g.append("g").attr("transform","translate(1129.6,0)").call(d3.axisLeft(cnt).tickValues([0,5000,10000,15000,20000]).tickFormat(d=>(d===10000||d===20000)?"":d).tickSize(9));styled(lc);
  lc.selectAll("text").attr("transform","rotate(-90)").attr("x",0).attr("y",-27).attr("dy",0).attr("text-anchor","middle").attr("dominant-baseline","middle");
  const rc=g.append("g").attr("transform","translate(1681.6,0)").call(d3.axisRight(cum).tickValues(d3.range(0,101,20)).tickSize(8).tickPadding(0));styled(rc);
  rc.selectAll("text").attr("transform","rotate(-90)").attr("x",0).attr("y",27).attr("dy",0).attr("text-anchor","middle").attr("dominant-baseline","middle");
  const tc=g.append("g").attr("transform","translate(0,363)").call(d3.axisTop(hc).tickValues(d3.range(0,101,20)).tickSize(8).tickPadding(11));styled(tc);
  const bc=g.append("g").attr("transform","translate(0,896)").call(d3.axisBottom(hx).tickValues(d3.range(0,6001,1000)).tickFormat(d=>d%2000?"":d).tickSize(9).tickPadding(13));styled(bc);

  T(g,1066.5,265,"Counts",{size:13,fill:txt,anchor:"middle",rot:-90});
  T(g,1745,218,"Cumulative  (%)",{size:13,fill:txt,anchor:"middle",rot:-90});
  T(g,1828,311,"Cumulative (%)",{size:14.5,fill:txt,anchor:"middle"});
  T(g,1778.4,960,"Counts",{size:14,fill:txt,anchor:"middle"});
  rich(g,1065,629,[["z(F"],["st",1],[")"]],{size:15,rot:-90,anchor:"middle",fill:txt});
  rich(g,1405,957,[["log"],["2",1],["(π"],["NDG",1],["/π"],["IDG",1],[")"]],{size:16.5,anchor:"middle",fill:txt});
  const leg=[[291,grey,[["-0.28<log2(π"],["ratio",1],[")<0.49"]]],[309,blue,[["log2(π"],["ratio",1],[") ≤ -0.28"]]],[326.7,green,[["log2(π"],["ratio",1],[") ≥ -0.28"]]],[344,"#333",[["Cumulative (%)"]]]];
  leg.forEach(l=>{g.append("line").attr("x1",1480).attr("x2",1507).attr("y1",l[0]).attr("y2",l[0]).attr("stroke",l[1]).attr("stroke-width",2.2);rich(g,1521,l[0],l[2],{size:14.8});});
  [[860,blue,"Selected region (NDG)"],[878.3,green,"Selected region (IDG)"]].forEach(l=>{g.append("circle").attr("cx",1503.5).attr("cy",l[0]).attr("r",5.5).attr("fill",l[1]);T(g,1521,l[0],l[2],{size:15,fill:txt});});
  const leg2=[[842.3,grey,[["z(F"],["st",1],[") < 1.89"]]],[860,orange,[["z(F"],["st",1],[") ≥ 1.89"]]],[877.7,"#333",[["Cumulative (%)"]]]];
  leg2.forEach(l=>{g.append("line").attr("x1",1726).attr("x2",1753.5).attr("y1",l[0]).attr("y2",l[0]).attr("stroke",l[1]).attr("stroke-width",2.2);rich(g,1767,l[0],l[2],{size:15});});
})();

// ---------- Panel D
(function(){
  const g=svg.append("g");
  const L={cx:228,cy:1295.4,r:188},R={cx:417,cy:1295.4,r:187.5};
  g.append("circle").attr("cx",L.cx).attr("cy",L.cy).attr("r",L.r).attr("fill","#9FC1E7");
  g.append("circle").attr("cx",R.cx).attr("cy",R.cy).attr("r",R.r).attr("fill","#F4A98F");
  g.append("clipPath").attr("id","vennClip").append("circle").attr("cx",L.cx).attr("cy",L.cy).attr("r",L.r);
  g.append("circle").attr("cx",R.cx).attr("cy",R.cy).attr("r",R.r).attr("fill","#D59789").attr("clip-path","url(#vennClip)");
  [L,R].forEach(c=>g.append("circle").attr("cx",c.cx).attr("cy",c.cy).attr("r",c.r).attr("fill","none").attr("stroke","#5a5a5a").attr("stroke-width",1.5));
  [135,320,509].forEach((px,i)=>T(g,px,1291,vennCounts[i],{size:25,fill:"#222",anchor:"middle"}));
  [210,447].forEach((px,i)=>T(g,px,1513,vennNames[i],{size:24,fill:"#555",anchor:"middle"}));
})();

// ---------- Panels E, F
function bubble(c){
  const g=svg.append("g");
  const data=c.names.map((n,i)=>({n,rich:c.rich[i],gene:c.genes[i],q:c.q[i]}));
  const x=d3.scaleLinear().domain(c.xd).range(c.xr);
  const y=d3.scalePoint().domain(c.names).range(c.yr);
  const r=d3.scaleLinear().domain(c.sizeLegend).range(c.radii);
  const col=d3.scaleLinear().domain(c.colD).range(["#DB4A3F","#B5788A","#8C7CA8","#5FA0DC","#2E93E5"]).clamp(true);
  g.append("rect").attr("x",c.xr[0]).attr("y",c.box[0]).attr("width",c.xr[1]-c.xr[0]).attr("height",c.box[1]-c.box[0]).attr("fill","#fff");
  c.xticks.forEach(v=>g.append("line").attr("x1",x(v)).attr("x2",x(v)).attr("y1",c.box[0]).attr("y2",c.box[1]).attr("stroke","#d8d8d8").attr("stroke-dasharray","3 4"));
  c.names.forEach(n=>g.append("line").attr("x1",c.xr[0]).attr("x2",c.xr[1]).attr("y1",y(n)).attr("y2",y(n)).attr("stroke","#d8d8d8").attr("stroke-dasharray","3 4"));
  g.append("rect").attr("x",c.xr[0]).attr("y",c.box[0]).attr("width",c.xr[1]-c.xr[0]).attr("height",c.box[1]-c.box[0]).attr("fill","none").attr("stroke","#666").attr("stroke-width",1.8);
  g.selectAll(null).data(data).join("circle").attr("cx",d=>x(d.rich)).attr("cy",d=>y(d.n)).attr("r",d=>r(d.gene)).attr("fill",d=>col(d.q)).attr("stroke","#444").attr("stroke-opacity",.8).attr("stroke-width",1.1);
  c.names.forEach(n=>T(g,c.labelX,y(n),n,{size:c.labelSize,fill:"#444",anchor:"end"}));
  const ax=g.append("g").attr("transform",`translate(0,${c.box[1]})`).call(d3.axisBottom(x).tickValues(c.xticks).tickFormat(c.fmt).tickSize(0).tickPadding(9));
  ax.select(".domain").remove();ax.selectAll("text").attr("fill","#555").attr("font-size",12.3).attr("font-family",'"Liberation Sans"');
  T(g,c.center,c.titleY,"Top 20 of Pathway Enrichment",{size:c.titleSize,fill:"#444",weight:"bold",anchor:"middle"});
  T(g,c.center,c.axisY,"Rich Factor",{size:c.axisSize,fill:"#444",weight:"bold",anchor:"middle"});
  T(g,c.pathX,c.pathY,"Pathway",{size:13.5,fill:"#444",weight:"bold",anchor:"middle",rot:-90});
  T(g,c.legX,c.geneY,"GeneNumber",{size:11.9,fill:"#555"});
  c.sizeLegend.forEach((v,i)=>{
    g.append("circle").attr("cx",c.legDot).attr("cy",c.dotY[i]).attr("r",c.radii[i]).attr("fill","#5a5a5a");
    T(g,c.legLabel,c.dotY[i]-4,v,{size:12,fill:"#666"});
  });
  rich(g,c.legX,c.qY,[["-log"],["10",1],["(Qvalue)"]],{size:12});
  const gid=c.id+"Grad";
  const grad=g.append("linearGradient").attr("id",gid).attr("x1",0).attr("x2",0).attr("y1",0).attr("y2",1);
  const barScale=d3.scaleLinear().domain(c.barD).range(c.barY);
  d3.range(0,1.001,.1).forEach(t=>grad.append("stop").attr("offset",t).attr("stop-color",col(barScale.invert(c.barExt[0]+t*(c.barExt[1]-c.barExt[0])))));
  g.append("rect").attr("x",c.legX).attr("y",c.barExt[0]).attr("width",13).attr("height",c.barExt[1]-c.barExt[0]).attr("fill",`url(#${gid})`);
  c.colorTicks.forEach(v=>T(g,c.legX+16,barScale(v),v,{size:12,fill:"#666"}));
}
bubble({id:"e",names:ePathways,rich:eRich,genes:eGenes,q:eQ,xd:[.0159,.0881],xr:[949,1159.6],yr:[1047.3,1664.6],box:[1029,1682.5],
  sizeLegend:eSizeLegend,radii:eRadii,colD:[.6,.45,.38,.28,.16],xticks:[.02,.04,.06,.08],fmt:d3.format(".2f"),labelX:940.7,labelSize:11.7,
  center:1053.5,titleY:1009.7,titleSize:14.9,axisY:1714,axisSize:13.4,pathX:626,pathY:1356,legX:1171,geneY:1038.4,legDot:1184,legLabel:1209,dotY:[1067.5,1102.7,1137,1171.7,1206],
  qY:1236.5,barD:[.6,.2],barY:[1254,1337.5],barExt:[1255,1347],colorTicks:eColorTicks});
bubble({id:"f",names:fPathways,rich:fRich,genes:fGenes,q:fQ,xd:[.0112,.1695],xr:[1589.5,1812],yr:[1039.3,1669.8],box:[1022,1686],
  sizeLegend:fSizeLegend,radii:fRadii,colD:[1.67,1.3,1.05,.8,.55],xticks:[.05,.1,.15],fmt:d3.format(""),labelX:1581,labelSize:12.4,
  center:1700,titleY:1005,titleSize:15.9,axisY:1715,axisSize:14.2,pathX:1277,pathY:1354,legX:1825,geneY:1031,legDot:1838,legLabel:1864,dotY:[1058,1089.5,1121,1152.4,1184],
  qY:1212,barD:[1.5,.75],barY:[1241,1295.6],barExt:[1228.5,1313],colorTicks:fColorTicks});
</script>
</body></html>
